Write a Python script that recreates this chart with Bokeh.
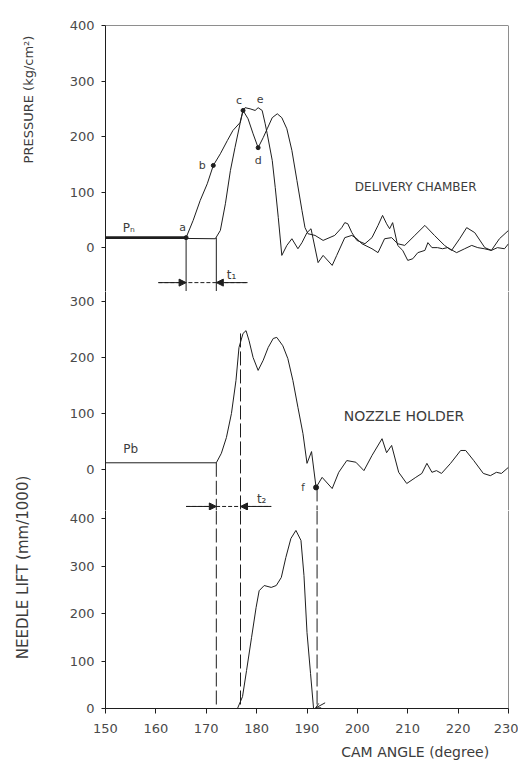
import math
from bokeh.plotting import figure
from bokeh.layouts import row, column
from bokeh.models import Range1d, Span, Arrow, NormalHead, OpenHead, FixedTicker
from bokeh.core.properties import value
from bokeh.embed import file_html
from bokeh.resources import INLINE

# ---------------- data ----------------
# Upper panel: delivery chamber pressure (kg/cm^2) vs cam angle (deg)
angle_dc = [150, 166.0, 167.4, 168.8, 170.2, 171.4, 172.8, 174.2, 175.3, 176.7, 177.3, 177.7,
            178.7, 179.7, 180.3, 181.1, 181.7, 182.1, 183.1, 183.7, 184.3, 185.0, 186.0, 187.0,
            188.2, 189.0, 190.0, 190.8, 192.2, 193.2, 195.0, 195.9, 197.5, 198.9, 199.9, 200.9,
            202.9, 204.1, 205.4, 206.8, 208.0, 209.4, 211.4, 213.4, 215.3, 217.3, 218.7, 220.3,
            221.7, 223.3, 225.3, 226.6, 228.2, 230]
p_dc = [18, 18, 49, 85, 115, 148, 169, 193, 211, 225, 247, 252,
        250, 247, 252, 247, 223, 205, 157, 108, 54, -14, 4, 16,
        -2, 9, 27, 34, -27, -14, -32, -14, 18, 22, 16, 7,
        -2, -9, 16, 18, 7, 4, 22, 40, 22, 4, -5, 16,
        36, 27, 0, -5, 16, 31]

# Upper panel: second (nozzle side) pressure trace
angle_nh_up = [150, 171.8, 172.8, 173.8, 174.8, 175.7, 176.7, 177.3, 178.3, 179.3, 180.3, 181.3,
               182.1, 183.1, 184.1, 185.0, 186.0, 187.0, 188.0, 189.0, 189.6, 190.2, 191.6, 193.2,
               195.5, 196.9, 197.5, 198.1, 198.9, 199.9, 201.5, 202.9, 204.1, 205.0, 205.8, 206.4,
               207.0, 208.0, 209.0, 210.0, 211.0, 212.0, 213.4, 214.0, 214.8, 215.9, 216.9, 217.9,
               219.7, 221.3, 222.7, 223.9, 225.2, 226.6, 227.8, 229.2, 230]
p_nh_up = [18, 16, 31, 79, 139, 180, 223, 247, 232, 205, 180, 198,
           214, 234, 241, 234, 214, 175, 121, 67, 36, 25, 22, 13,
           22, 36, 45, 43, 27, 13, 7, 18, 40, 58, 43, 34,
           45, 4, -5, -23, -20, -9, -5, 9, 0, 0, -2, 0,
           -9, -2, 4, 0, -2, -5, 0, -2, 7]

# Middle panel: nozzle holder pressure (kg/cm^2)
angle_nh = [150, 172.0, 173.0, 174.0, 175.0, 175.9, 176.5, 177.3, 177.9, 178.5, 179.3, 180.3,
            181.3, 182.3, 183.3, 184.0, 185.2, 186.2, 187.2, 188.2, 189.2, 190.0, 190.9, 191.8,
            193.0, 195.0, 196.3, 197.9, 199.7, 201.3, 202.9, 204.9, 205.8, 206.8, 208.2, 209.8,
            211.6, 212.8, 213.8, 214.8, 215.7, 216.7, 218.5, 220.5, 221.5, 223.1, 225.0, 226.4,
            227.6, 228.6, 230]
p_nh = [12, 12, 29, 57, 100, 159, 218, 243, 248, 230, 200, 177,
        195, 218, 234, 236, 221, 198, 159, 111, 64, 11, 32, -32,
        -14, -34, -5, 16, 13, -2, 25, 55, 30, 43, -5, -25,
        -14, -7, 11, -5, -2, -7, 11, 34, 34, 16, -7, -11,
        -5, -7, 4]

# Bottom panel: needle lift (mm/1000)
angle_nl = [150, 176.2, 177.2, 178.0, 179.0, 179.9, 180.5, 181.5, 182.9, 183.9, 184.9, 185.8,
            186.8, 187.8, 188.8, 189.4, 190.0, 190.7, 191.3, 230]
lift = [0, 0, 25, 80, 150, 213, 248, 259, 255, 259, 276, 318,
        358, 375, 354, 280, 160, 74, 0, 0]

# residual pressures and event angles
p_residual_n = 18
angle_a = 166.0          # start of delivery chamber pressure rise
angle_nozzle_rise = 172.0
angle_needle_open = 176.8
angle_needle_close = 192.0

marked_up_x = [166.0, 171.4, 177.3, 180.3]
marked_up_y = [18, 148, 247, 180]
marked_f = (191.8, -32)

press_ticks = [0, 100, 200, 300, 400]
press_ticks_mid = [0, 100, 200, 300]
lift_ticks = [0, 100, 200, 300, 400]
angle_ticks = [150, 160, 170, 180, 190, 200, 210, 220, 230]

# ---------------- styling ----------------
FONT = "DejaVu Sans"
INK = "#1e1e1e"
TXT = "#3c3c3c"
TICK_TXT = "#4a4a4a"

x_range = Range1d(150, 230)

UP_RANGE = (-79, 400)
MID_RANGE = (-73.2, 317.9)
LOW_RANGE = (0, 417)


def make_fig(height, y0, y1, ticks, top=0, bottom=0, show_x=False):
    p = figure(width=470, height=height, x_range=x_range, y_range=Range1d(y0, y1),
               output_backend="svg", toolbar_location=None,
               x_axis_location="below" if show_x else None, y_axis_location="left",
               min_border_left=57, min_border_right=10, min_border_top=top,
               min_border_bottom=bottom)
    p.grid.visible = False
    p.outline_line_color = None
    p.background_fill_color = "white"
    p.border_fill_color = "white"
    ax = p.yaxis[0]
    ax.ticker = FixedTicker(ticks=ticks)
    ax.axis_line_color = INK
    ax.major_tick_line_color = INK
    ax.major_tick_out = 4
    ax.major_tick_in = 0
    ax.minor_tick_line_color = None
    ax.major_label_standoff = 7
    ax.major_label_text_font = FONT
    ax.major_label_text_font_size = "13px"
    ax.major_label_text_color = TICK_TXT
    p.add_layout(Span(location=230, dimension="height", line_color=INK, line_width=1))
    return p


def txt(p, x, y, s, size="12px", align="center", baseline="middle"):
    p.text(x=[x], y=[y], text=[s], text_font=value(FONT), text_font_size=size,
           text_color=TXT, text_align=align, text_baseline=baseline)


def head():
    return NormalHead(size=7, fill_color=INK, line_color=INK)


# ---------- upper panel ----------
f1 = make_fig(291, UP_RANGE[0], UP_RANGE[1], press_ticks, top=25)
f1.add_layout(Span(location=400, dimension="width", line_color=INK, line_width=1))
f1.line(angle_dc, p_dc, line_color=INK, line_width=1)
f1.line(angle_nh_up, p_nh_up, line_color=INK, line_width=1)
f1.line([150, angle_a], [p_residual_n, p_residual_n], line_color=INK, line_width=2.6)
f1.scatter(marked_up_x, marked_up_y, size=4, color=INK)
f1.segment(x0=[angle_a, angle_nozzle_rise], y0=[p_residual_n, p_residual_n],
           x1=[angle_a, angle_nozzle_rise], y1=[UP_RANGE[0]] * 2, line_color=INK, line_width=1)
t1_y = -63
f1.line([angle_a - 5.5, angle_nozzle_rise + 6.2], [t1_y, t1_y], line_color=INK,
        line_width=1, line_dash="4 2")
f1.add_layout(Arrow(end=head(), x_start=angle_a - 5.5, y_start=t1_y, x_end=angle_a,
                    y_end=t1_y, line_color=INK, line_width=1))
f1.add_layout(Arrow(end=head(), x_start=angle_nozzle_rise + 6.2, y_start=t1_y,
                    x_end=angle_nozzle_rise, y_end=t1_y, line_color=INK, line_width=1))
txt(f1, 175.0, -49, "t₁", "12px")
txt(f1, 154.6, 36, "Pₙ", "12px")
txt(f1, 165.3, 36, "a", "11px")
txt(f1, 169.2, 148, "b", "11px")
txt(f1, 176.5, 265, "c", "11px")
txt(f1, 180.7, 268, "e", "11px")
txt(f1, 180.3, 157, "d", "11px")
txt(f1, 199.5, 110, "DELIVERY CHAMBER", "12px", align="left")

# ---------- middle panel ----------
f2 = make_fig(219, MID_RANGE[0], MID_RANGE[1], press_ticks_mid)
f2.line(angle_nh, p_nh, line_color=INK, line_width=1)
f2.scatter([marked_f[0]], [marked_f[1]], size=5, color=INK)
f2.segment(x0=[angle_nozzle_rise, angle_needle_open, angle_needle_close],
           y0=[12, 243, marked_f[1]],
           x1=[angle_nozzle_rise, angle_needle_open, angle_needle_close],
           y1=[MID_RANGE[0]] * 3, line_color=INK, line_width=1, line_dash="14 4")
t2_y = -66
f2.line([angle_a, angle_needle_open + 6.1], [t2_y, t2_y], line_color=INK,
        line_width=1, line_dash="4 2")
f2.add_layout(Arrow(end=head(), x_start=angle_a, y_start=t2_y, x_end=angle_nozzle_rise,
                    y_end=t2_y, line_color=INK, line_width=1))
f2.add_layout(Arrow(end=head(), x_start=angle_needle_open + 6.1, y_start=t2_y,
                    x_end=angle_needle_open, y_end=t2_y, line_color=INK, line_width=1))
txt(f2, 181.0, -52, "t₂", "12px")
txt(f2, 155.0, 37, "Pb", "12px")
txt(f2, 189.2, -32, "f", "10px")
txt(f2, 197.3, 96, "NOZZLE HOLDER", "14px", align="left")

# ---------- bottom panel ----------
f3 = make_fig(228, LOW_RANGE[0], LOW_RANGE[1], lift_ticks, bottom=30, show_x=True)
f3.line(angle_nl, lift, line_color=INK, line_width=1)
f3.segment(x0=[angle_nozzle_rise, angle_needle_open, angle_needle_close],
           y0=[LOW_RANGE[1]] * 3,
           x1=[angle_nozzle_rise, angle_needle_open, angle_needle_close], y1=[0, 0, 0],
           line_color=INK, line_width=1, line_dash="14 4")
f3.add_layout(Arrow(end=OpenHead(size=5, line_color=INK, line_width=1),
                    x_start=angle_needle_close + 1.6, y_start=12,
                    x_end=angle_needle_close - 0.3, y_end=1, line_color=INK, line_width=1))
xa = f3.xaxis[0]
xa.ticker = FixedTicker(ticks=angle_ticks)
xa.axis_line_color = INK
xa.major_tick_line_color = INK
xa.major_tick_out = 5
xa.major_tick_in = 0
xa.minor_tick_line_color = None
xa.major_label_standoff = 10
xa.major_label_text_font = FONT
xa.major_label_text_font_size = "13px"
xa.major_label_text_color = TICK_TXT

# ---------- strip holding the x-axis title ----------
xt = figure(width=470, height=22, x_range=x_range, y_range=Range1d(0, 22),
            output_backend="svg", toolbar_location=None, x_axis_location=None,
            y_axis_location=None, min_border_left=57, min_border_right=10,
            min_border_top=0, min_border_bottom=0)
xt.grid.visible = False
xt.outline_line_color = None
xt.text(x=[196.8], y=[9], text=["CAM ANGLE (degree)"], text_font=value(FONT),
        text_font_size="14px", text_color=TXT, text_align="left", text_baseline="middle")

# ---------- left label strip ----------
lf = figure(width=48, height=760, x_range=Range1d(0, 48), y_range=Range1d(0, 760),
            output_backend="svg", toolbar_location=None, x_axis_location=None,
            y_axis_location=None, min_border=0, min_border_left=0, min_border_right=0,
            min_border_top=0, min_border_bottom=0)
lf.grid.visible = False
lf.outline_line_color = None
lf.text(x=[28], y=[661], text=["PRESSURE (kg/cm²)"], angle=math.pi / 2,
        text_align="center", text_baseline="middle", text_font=value(FONT),
        text_font_size="13px", text_color=TXT)
lf.text(x=[22], y=[193], text=["NEEDLE LIFT (mm/1000)"], angle=math.pi / 2,
        text_align="center", text_baseline="middle", text_font=value(FONT),
        text_font_size="15px", text_color=TXT)

layout = row(lf, column(f1, f2, f3, xt, spacing=0), spacing=0)

open("out.html", "w").write(file_html(layout, INLINE))
